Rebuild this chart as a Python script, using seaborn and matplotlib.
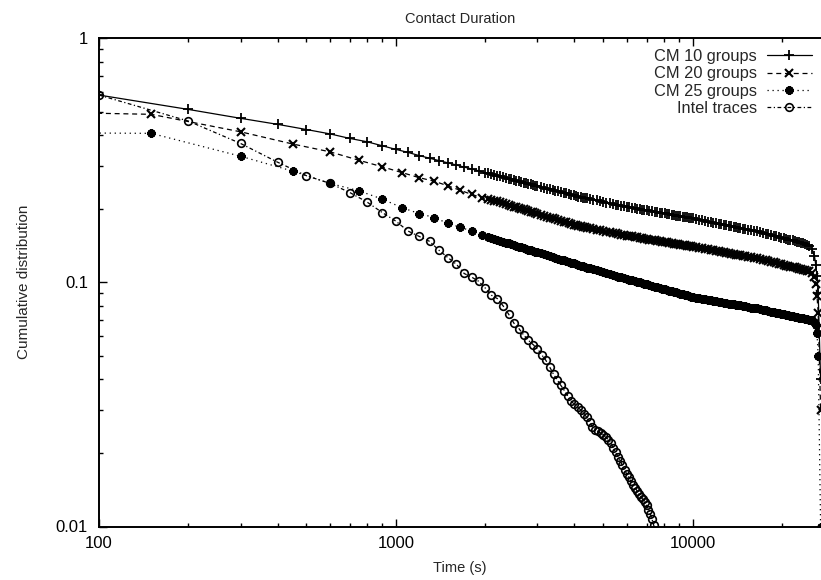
import matplotlib
matplotlib.use("Agg")
import matplotlib.pyplot as plt
import matplotlib.ticker as mticker
import seaborn as sns
import pandas as pd

# ---------------- data ----------------
series_names = ["CM 10 groups", "CM 20 groups", "CM 25 groups", "Intel traces"]

t_tail = [2050, 2100, 2150, 2200, 2250, 2300, 2350, 2400, 2450, 2500,
          2550, 2600, 2650, 2700, 2750, 2800, 2850, 2900, 2950, 3000,
          3075, 3150, 3225, 3300, 3375, 3450, 3525, 3600, 3675, 3750,
          3825, 3900, 3975, 4050, 4125, 4200, 4275, 4350, 4425, 4500,
          4625, 4750, 4875, 5000, 5125, 5250, 5375, 5500, 5625, 5750,
          5875, 6000, 6125, 6250, 6375, 6500, 6625, 6750, 6875, 7000,
          7150, 7300, 7450, 7600, 7750, 7900, 8050, 8200, 8350, 8500,
          8650, 8800, 8950, 9100, 9250, 9400, 9550, 9700, 9850, 10000,
          10250, 10500, 10750, 11000, 11250, 11500, 11750, 12000, 12250, 12500,
          12750, 13000, 13250, 13500, 13750, 14000, 14250, 14500, 14750, 15000,
          15375, 15750, 16125, 16500, 16875, 17250, 17625, 18000, 18375, 18750,
          19125, 19500, 19875, 20250, 20625, 21000, 21375, 21750, 22125, 22500,
          22875, 23250, 23625, 24000, 24375, 24750,
          25250, 25750, 26000, 26250, 26500, 27000]

t_cm10_head = [100, 200, 300, 400, 500, 600, 700, 800, 900, 1000,
               1100, 1200, 1300, 1400, 1500, 1600, 1700, 1800, 1900, 2000]
y_cm10_head = [0.584, 0.510, 0.469, 0.443, 0.422, 0.405, 0.388, 0.376, 0.362, 0.350,
               0.340, 0.330, 0.322, 0.315, 0.308, 0.302, 0.296, 0.291, 0.286, 0.281]
y_cm10_tail = [0.279, 0.277, 0.275, 0.273, 0.271, 0.269, 0.267, 0.265, 0.2635, 0.262,
               0.2605, 0.259, 0.2575, 0.256, 0.2545, 0.253, 0.2515, 0.250, 0.2485, 0.247,
               0.2455, 0.244, 0.242, 0.240, 0.2385, 0.237, 0.2355, 0.234, 0.2325, 0.231,
               0.2295, 0.228, 0.2267, 0.2255, 0.2244, 0.2233, 0.2223, 0.2213, 0.2203, 0.2193,
               0.2178, 0.2163, 0.2148, 0.2133, 0.2118, 0.2104, 0.2092, 0.208, 0.2068, 0.2056,
               0.2044, 0.2032, 0.2024, 0.2016, 0.2008, 0.200, 0.1992, 0.1984, 0.1976, 0.1968,
               0.1959, 0.195, 0.1943, 0.1936, 0.1927, 0.1919, 0.1912, 0.1905, 0.1896, 0.1888,
               0.1881, 0.1875, 0.1868, 0.1862, 0.1855, 0.1849, 0.1843, 0.1837, 0.1831, 0.1825,
               0.1814, 0.1803, 0.1792, 0.1782, 0.1773, 0.1764, 0.1755, 0.1746, 0.1737, 0.1728,
               0.1719, 0.1711, 0.1702, 0.1694, 0.1686, 0.1679, 0.1673, 0.1667, 0.1659, 0.1652,
               0.1642, 0.1633, 0.1623, 0.1614, 0.1603, 0.1592, 0.1581, 0.157, 0.1561, 0.1552,
               0.1541, 0.1531, 0.1522, 0.1514, 0.1505, 0.1496, 0.1489, 0.1483, 0.1474, 0.1466,
               0.1459, 0.1452, 0.1444, 0.1436, 0.1425, 0.141,
               0.137, 0.128, 0.118, 0.106, 0.09, 0.04]

t_cm_head = [50, 150, 300, 450, 600, 750, 900, 1050, 1200, 1350, 1500, 1650, 1800, 1950]
y_cm20_head = [0.50, 0.487, 0.413, 0.368, 0.342, 0.316, 0.297, 0.281, 0.268, 0.259,
               0.248, 0.238, 0.229, 0.222]
y_cm20_tail = [0.2195, 0.218, 0.2161, 0.2143, 0.2126, 0.2109, 0.2092, 0.2075, 0.2058, 0.2042,
               0.2028, 0.2014, 0.200, 0.1986, 0.1972, 0.1959, 0.1945, 0.1932, 0.1918, 0.1905,
               0.189, 0.1875, 0.1858, 0.1841, 0.1826, 0.1811, 0.1798, 0.1786, 0.1772, 0.1758,
               0.1746, 0.1734, 0.1722, 0.171, 0.1702, 0.1694, 0.1686, 0.1679, 0.1671, 0.1663,
               0.1652, 0.1641, 0.1631, 0.1622, 0.1611, 0.160, 0.1592, 0.1585, 0.1576, 0.1567,
               0.1559, 0.1552, 0.1546, 0.154, 0.1534, 0.1528, 0.1521, 0.1515, 0.1509, 0.1503,
               0.1496, 0.1489, 0.1484, 0.1479, 0.1472, 0.1466, 0.1462, 0.1459, 0.1452, 0.1445,
               0.144, 0.1435, 0.143, 0.1426, 0.1421, 0.1416, 0.1411, 0.1406, 0.1402, 0.1398,
               0.1391, 0.1384, 0.1376, 0.1368, 0.1362, 0.1357, 0.135, 0.1343, 0.1337, 0.1332,
               0.1325, 0.1318, 0.1313, 0.1309, 0.1303, 0.1297, 0.1292, 0.1288, 0.1283, 0.1279,
               0.1272, 0.1265, 0.1259, 0.1253, 0.1245, 0.1236, 0.1228, 0.1219, 0.1213, 0.1208,
               0.120, 0.1191, 0.1185, 0.1178, 0.1171, 0.1164, 0.116, 0.1156, 0.115, 0.1143,
               0.1138, 0.1132, 0.1126, 0.1119, 0.1114, 0.1109,
               0.1095, 0.105, 0.098, 0.088, 0.075, 0.03]

y_cm25_head = [0.41, 0.407, 0.328, 0.285, 0.254, 0.237, 0.219, 0.202, 0.191, 0.184,
               0.174, 0.168, 0.162, 0.156]
y_cm25_tail = [0.1531, 0.1517, 0.1503, 0.1489, 0.1477, 0.1466, 0.1454, 0.1442, 0.1432, 0.1422,
               0.1411, 0.140, 0.139, 0.138, 0.137, 0.1361, 0.1352, 0.1343, 0.1335, 0.1327,
               0.1315, 0.1303, 0.1291, 0.1279, 0.1269, 0.1259, 0.1249, 0.1239, 0.1229, 0.1219,
               0.121, 0.1202, 0.1194, 0.1186, 0.1177, 0.1169, 0.1162, 0.1156, 0.1149, 0.1143,
               0.1131, 0.1119, 0.111, 0.1102, 0.1091, 0.1081, 0.1072, 0.1064, 0.1055, 0.1047,
               0.104, 0.1033, 0.1026, 0.1019, 0.1012, 0.1005, 0.0999, 0.0993, 0.0986, 0.098,
               0.0973, 0.0966, 0.0959, 0.0953, 0.0947, 0.0942, 0.0935, 0.0929, 0.0923, 0.0918,
               0.0913, 0.0908, 0.0902, 0.0897, 0.0892, 0.0887, 0.0883, 0.0879, 0.0874, 0.0869,
               0.0865, 0.0861, 0.0857, 0.0853, 0.0848, 0.0843, 0.084, 0.0836, 0.0833, 0.083,
               0.0826, 0.0822, 0.0818, 0.0815, 0.0812, 0.0809, 0.0806, 0.0804, 0.080, 0.0796,
               0.0792, 0.0788, 0.0785, 0.0782, 0.0777, 0.0773, 0.0768, 0.0764, 0.0759, 0.0755,
               0.0751, 0.0748, 0.0744, 0.0741, 0.0737, 0.0733, 0.073, 0.0726, 0.0723, 0.0721,
               0.0717, 0.0714, 0.0711, 0.0708, 0.0705, 0.0703,
               0.0698, 0.069, 0.067, 0.062, 0.05, 0.01]

t_intel = [100, 200, 300, 400, 500, 600, 700, 800, 900, 1000,
           1100, 1200, 1300, 1400, 1500, 1600, 1700, 1800, 1900, 2000,
           2100, 2200, 2300, 2400, 2500, 2600, 2700, 2800, 2900, 3000,
           3100, 3200, 3300, 3400, 3500, 3600, 3700, 3800, 3900, 4000,
           4100, 4200, 4300, 4400, 4500, 4600, 4700, 4800, 4900, 5000,
           5100, 5200, 5300, 5400, 5500, 5600, 5700, 5800, 5900, 6000,
           6100, 6200, 6300, 6400, 6500, 6600, 6700, 6800, 6900, 7000,
           7100, 7200, 7300, 7400, 7500, 7600]
y_intel = [0.584, 0.457, 0.370, 0.310, 0.273, 0.254, 0.233, 0.213, 0.193, 0.178,
           0.162, 0.154, 0.147, 0.135, 0.126, 0.1185, 0.1086, 0.105, 0.101, 0.0948,
           0.0885, 0.0857, 0.080, 0.074, 0.068, 0.0646, 0.0607, 0.0578, 0.0556, 0.0535,
           0.0505, 0.048, 0.045, 0.042, 0.0398, 0.0378, 0.036, 0.0342, 0.0326, 0.0316,
           0.0308, 0.0300, 0.029, 0.028, 0.0267, 0.0255, 0.0249, 0.0245, 0.0241, 0.0238,
           0.0232, 0.0227, 0.022, 0.021, 0.0202, 0.0193, 0.0186, 0.0178, 0.0171, 0.0164,
           0.0159, 0.0153, 0.0148, 0.0144, 0.014, 0.0136, 0.0132, 0.0129, 0.0126, 0.0122,
           0.0117, 0.0113, 0.0107, 0.0101, 0.0096, 0.009]

x_ticks = [100, 1000, 10000]
x_tick_labels = ["100", "1000", "10000"]
y_ticks = [0.01, 0.1, 1]
y_tick_labels = ["0.01", "0.1", "1"]

# ---------------- build frames ----------------
frames = {
    "CM 10 groups": pd.DataFrame({"t": t_cm10_head + t_tail, "p": y_cm10_head + y_cm10_tail}),
    "CM 20 groups": pd.DataFrame({"t": t_cm_head + t_tail, "p": y_cm20_head + y_cm20_tail}),
    "CM 25 groups": pd.DataFrame({"t": t_cm_head + t_tail, "p": y_cm25_head + y_cm25_tail}),
    "Intel traces": pd.DataFrame({"t": t_intel, "p": y_intel}),
}

styles = {
    "CM 10 groups": dict(marker="+", markersize=7, markeredgewidth=1.3, linestyle="-"),
    "CM 20 groups": dict(marker="x", markersize=6, markeredgewidth=1.5, linestyle=(0, (4, 3))),
    "CM 25 groups": dict(marker=(8, 2, 0), markersize=6, markeredgewidth=1.8, linestyle=(0, (1, 3))),
    "Intel traces": dict(marker="o", markersize=5.5, markeredgewidth=1.2, linestyle=(0, (3, 2, 1, 2)),
                         markerfacecolor="none"),
}

# ---------------- figure ----------------
sns.set_style("ticks")
plt.rcParams["font.family"] = ["Liberation Sans", "DejaVu Sans"]
plt.rcParams["font.size"] = 10.5

W, H = 821, 580
fig = plt.figure(figsize=(W / 100, H / 100), dpi=100)
ax = fig.add_axes([99 / W, (H - 526.5) / H, (820.5 - 99) / W, (526.5 - 38) / H])

for name in series_names:
    sns.lineplot(data=frames[name], x="t", y="p", ax=ax, color="black",
                 linewidth=0.9, markeredgecolor="black", errorbar=None,
                 label=name, **styles[name])

ax.set_xscale("log")
ax.set_yscale("log")
ax.set_xlim(100, 26980)
ax.set_ylim(0.01, 1)

ax.xaxis.set_major_locator(mticker.FixedLocator(x_ticks))
ax.xaxis.set_major_formatter(mticker.FixedFormatter(x_tick_labels))
ax.yaxis.set_major_locator(mticker.FixedLocator(y_ticks))
ax.yaxis.set_major_formatter(mticker.FixedFormatter(y_tick_labels))
ax.xaxis.set_minor_locator(mticker.LogLocator(base=10, subs=range(2, 10)))
ax.yaxis.set_minor_locator(mticker.LogLocator(base=10, subs=range(2, 10)))
ax.xaxis.set_minor_formatter(mticker.NullFormatter())
ax.yaxis.set_minor_formatter(mticker.NullFormatter())

ax.tick_params(which="both", direction="in", top=True, right=False, color="black",
               labelsize=12, labelcolor="black")
ax.tick_params(which="major", length=6, width=1.0)
ax.tick_params(which="minor", length=3, width=1.0)
ax.tick_params(axis="x", which="major", pad=7)
ax.tick_params(axis="y", which="major", pad=8)

for s in ["left", "bottom", "top"]:
    ax.spines[s].set_linewidth(1.4)
    ax.spines[s].set_color("black")
ax.spines["right"].set_visible(False)

ax.set_title("Contact Duration", fontsize=10.5, pad=11)
ax.set_xlabel("Time (s)", fontsize=10.5, labelpad=7)
ax.set_ylabel("Cumulative distribution", fontsize=11, labelpad=18)

handles, labels = ax.get_legend_handles_labels()
leg = ax.legend(handles, labels, loc="upper right", bbox_to_anchor=(812 / W, 1 - 49 / H),
                bbox_transform=fig.transFigure, frameon=False, markerfirst=False,
                handlelength=2.75, handletextpad=0.6, labelspacing=0.14, borderpad=0,
                borderaxespad=0, fontsize=11.8)

fig.savefig("out.png", dpi=100)
